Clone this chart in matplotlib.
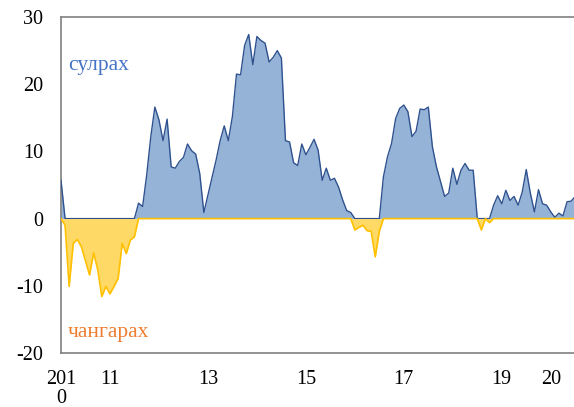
import matplotlib
matplotlib.use("Agg")
import matplotlib.pyplot as plt
import numpy as np

plt.rcParams['font.family'] = ['Liberation Serif', 'DejaVu Serif']
plt.rcParams['axes.unicode_minus'] = False

# monthly values, Jan 2010 onward
values = [
    5.7, -1.0, -10.1, -3.7, -3.1, -4.2, -6.3, -8.4, -5.1, -7.6,
    -11.6, -10.1, -11.2, -10.1, -8.9, -3.7, -5.2, -3.2, -2.7, 2.3,
    1.8, 6.5, 12.2, 16.6, 14.7, 11.6, 14.8, 7.7, 7.5, 8.5,
    9.1, 11.1, 10.1, 9.6, 6.7, 0.9, 3.5, 6.1, 8.7, 11.6,
    13.8, 11.6, 15.2, 21.5, 21.4, 25.8, 27.4, 22.9, 27.1, 26.5,
    26.1, 23.3, 24.0, 25.0, 23.9, 11.6, 11.4, 8.3, 7.9, 11.1,
    9.5, 10.6, 11.8, 10.2, 5.7, 7.5, 5.7, 6.0, 4.7, 2.8,
    1.2, 0.9, -1.7, -1.3, -1.0, -1.8, -1.9, -5.7, -1.9, 6.2,
    9.2, 11.2, 14.9, 16.4, 16.9, 15.9, 12.2, 13.0, 16.3, 16.2,
    16.6, 10.7, 7.7, 5.5, 3.3, 3.8, 7.5, 5.1, 7.2, 8.2,
    7.2, 7.2, 0.0, -1.7, 0.0, -0.6, 2.0, 3.4, 2.2, 4.2,
    2.7, 3.3, 2.0, 3.9, 7.3, 3.8, 1.0, 4.3, 2.2, 2.0,
    1.0, 0.2, 0.8, 0.4, 2.5, 2.6, 3.3,
]
tick_positions = [0, 12, 36, 60, 84, 108, 120]
tick_labels = ["201\n0", "11", "13", "15", "17", "19", "20"]
label_pos = "сулрах"
label_neg = "чангарах"

v = np.array(values)
x = np.arange(len(v))
pos = np.where(v > 0, v, 0.0)
neg = np.where(v < 0, v, 0.0)

fig = plt.figure(figsize=(5.74, 4.07), dpi=100)
ax = fig.add_axes([61/574, (407-353)/407, (574-61)/574, (353-17)/407])

ax.fill_between(x, 0, pos, color='#95B3D7', linewidth=0, zorder=2)
ax.plot(x, pos, color='#2F528F', linewidth=1.0, zorder=3)
ax.fill_between(x, 0, neg, color='#FFD966', linewidth=0, zorder=4)
ax.plot(x, neg, color='#FFC000', linewidth=1.2, zorder=5)

ax.set_xlim(0, 125.7)
ax.set_ylim(-20, 30)
ax.set_yticks([-20, -10, 0, 10, 20, 30])
ax.set_xticks(tick_positions)
ax.set_xticklabels(tick_labels, linespacing=1.0)
ax.tick_params(axis='both', length=0, labelsize=14.5, colors='black')
ax.tick_params(axis='y', pad=13)
ax.tick_params(axis='x', pad=12)

for s in ['left', 'top', 'bottom']:
    ax.spines[s].set_color('#808080')
    ax.spines[s].set_linewidth(1.2)
ax.spines['right'].set_visible(False)

ax.text(0.014, 0.857, label_pos, transform=ax.transAxes, color='#4472C4',
        fontsize=15.5, va='center', ha='left')
ax.text(0.014, 0.06, label_neg, transform=ax.transAxes, color='#ED7D31',
        fontsize=15.5, va='center', ha='left')

fig.savefig("out.png", dpi=100)
